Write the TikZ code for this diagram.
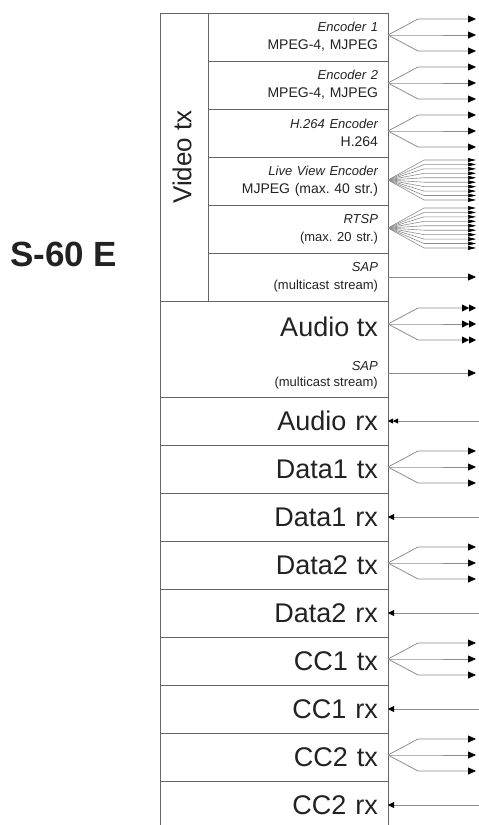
\documentclass[tikz,border=0pt]{standalone}
\usepackage{fontspec}
\setmainfont{Liberation Sans}
\usetikzlibrary{arrows.meta,positioning}
\definecolor{boxgray}{HTML}{666666}
\definecolor{linegray}{HTML}{8C8C8C}
\definecolor{textgray}{HTML}{222222}
\newcommand{\encname}[1]{{\fontsize{13}{18}\selectfont\itshape #1}}
\frenchspacing

\begin{document}
\begin{tikzpicture}[
    x=1pt, y=-1pt,
    vrow/.style={rectangle, draw=boxgray, line width=1pt, text=textgray, minimum width=180pt, minimum height=48pt, text width=160pt, inner xsep=10pt, inner ysep=0pt, outer sep=0pt, align=right, font=\fontsize{14}{18}\selectfont},
    row/.style={rectangle, draw=boxgray, line width=1pt, text=textgray, minimum width=228pt, minimum height=48pt, text width=208pt, inner xsep=10pt, inner ysep=0pt, outer sep=0pt, align=right, font=\fontsize{27}{30}\selectfont},
    conn/.style={draw=linegray, line width=0.8pt},
    tx/.style={conn, -{Triangle[length=8pt,width=7pt,black]}},
    txmany/.style={conn, line width=0.6pt, -{Triangle[length=8pt,width=3.8pt,black]}},
    txdouble/.style={conn, -{Triangle[length=7pt,width=7pt,black]Triangle[length=7pt,width=7pt,black]}},
    rx/.style={conn, {Triangle[length=6pt,width=6pt,black]}-},
    rxdouble/.style={conn, {Triangle[length=5pt,width=5pt,black]Triangle[length=5pt,width=5pt,black]}-}
]
    \useasboundingbox (0,0) rectangle (479,825);

    % Device name
    \node[anchor=west, font=\fontsize{35}{40}\selectfont\bfseries, text=textgray, inner sep=0pt] (device) at (10,254) {S-60 E};

    % Video tx column
    \node[rectangle, draw=boxgray, line width=1pt, minimum width=48pt, minimum height=288pt, outer sep=0pt, inner sep=0pt, anchor=north west] (video) at (160,13) {};
    \node[rotate=90, font=\fontsize{26}{30}\selectfont, text=textgray, inner sep=0pt] (videolbl) at ([xshift=-2pt]video.center) {Video tx};

    % Video streams
    \node[vrow, anchor=north west] (enc1) at (video.north east) {\encname{Encoder 1}\\MPEG-4, MJPEG};
    \node[vrow, below=0pt of enc1] (enc2) {\encname{Encoder 2}\\MPEG-4, MJPEG};
    \node[vrow, below=0pt of enc2] (h264) {\encname{H.264 Encoder}\\H.264};
    \node[vrow, below=0pt of h264] (live) {\encname{Live View Encoder}\\MJPEG (max. 40 str.)};
    \node[vrow, below=0pt of live] (rtsp) {\encname{RTSP}\\{\fontsize{13}{18}\selectfont(max. 20 str.)}};
    \node[vrow, below=0pt of rtsp] (vsap) {\encname{SAP}\\{\fontsize{13}{18}\selectfont(multicast stream)}};

    % Audio
    \node[row, minimum height=96pt, anchor=north west] (audiotx) at (video.south west) {};
    \node[anchor=east, font=\fontsize{27}{30}\selectfont, text=textgray, inner sep=0pt] (audiolbl) at ([xshift=-10pt, yshift=22pt]audiotx.east) {Audio tx};
    \node[anchor=east, align=right, font=\fontsize{13}{16}\selectfont, text=textgray, inner sep=0pt] (asaplbl) at ([xshift=-10pt, yshift=-26pt]audiotx.east) {\encname{SAP}\\(multicast stream)};
    \node[row, below=0pt of audiotx] (audiorx) {Audio rx};

    % Data and CC
    \node[row, below=0pt of audiorx] (data1tx) {Data1 tx};
    \node[row, below=0pt of data1tx] (data1rx) {Data1 rx};
    \node[row, below=0pt of data1rx] (data2tx) {Data2 tx};
    \node[row, below=0pt of data2tx] (data2rx) {Data2 rx};
    \node[row, below=0pt of data2rx] (cc1tx) {CC1 tx};
    \node[row, below=0pt of cc1tx] (cc1rx) {CC1 rx};
    \node[row, below=0pt of cc1rx] (cc2tx) {CC2 tx};
    \node[row, below=0pt of cc2tx] (cc2rx) {CC2 rx};

    % Outgoing streams
    \foreach \n in {enc1,enc2,h264,data1tx,data2tx,cc1tx,cc2tx}
        \foreach \d in {-16,0,16}
            \draw[tx] (\n.east) ++(0,-2) -- ++(30,\d) -- ++(58,0);
    \foreach \n in {live,rtsp}
        \foreach \k in {0,...,9}
            \draw[txmany] (\n.east) ++(0,-1) -- ++(36,{-20+4.44*\k}) -- ++(52,0);
    \foreach \d in {-16,0,16}
        \draw[txdouble] (audiotx.east) ++(0,-25) -- ++(30,\d) -- ++(58,0);
    \draw[tx] (vsap.east) -- ++(88,0);
    \draw[tx] (audiotx.east) ++(0,24) -- ++(88,0);

    % Incoming streams
    \draw[rxdouble] (audiorx.east) -- ++(91,0);
    \foreach \n in {data1rx,data2rx,cc1rx,cc2rx}
        \draw[rx] (\n.east) -- ++(91,0);

\end{tikzpicture}
\end{document}
